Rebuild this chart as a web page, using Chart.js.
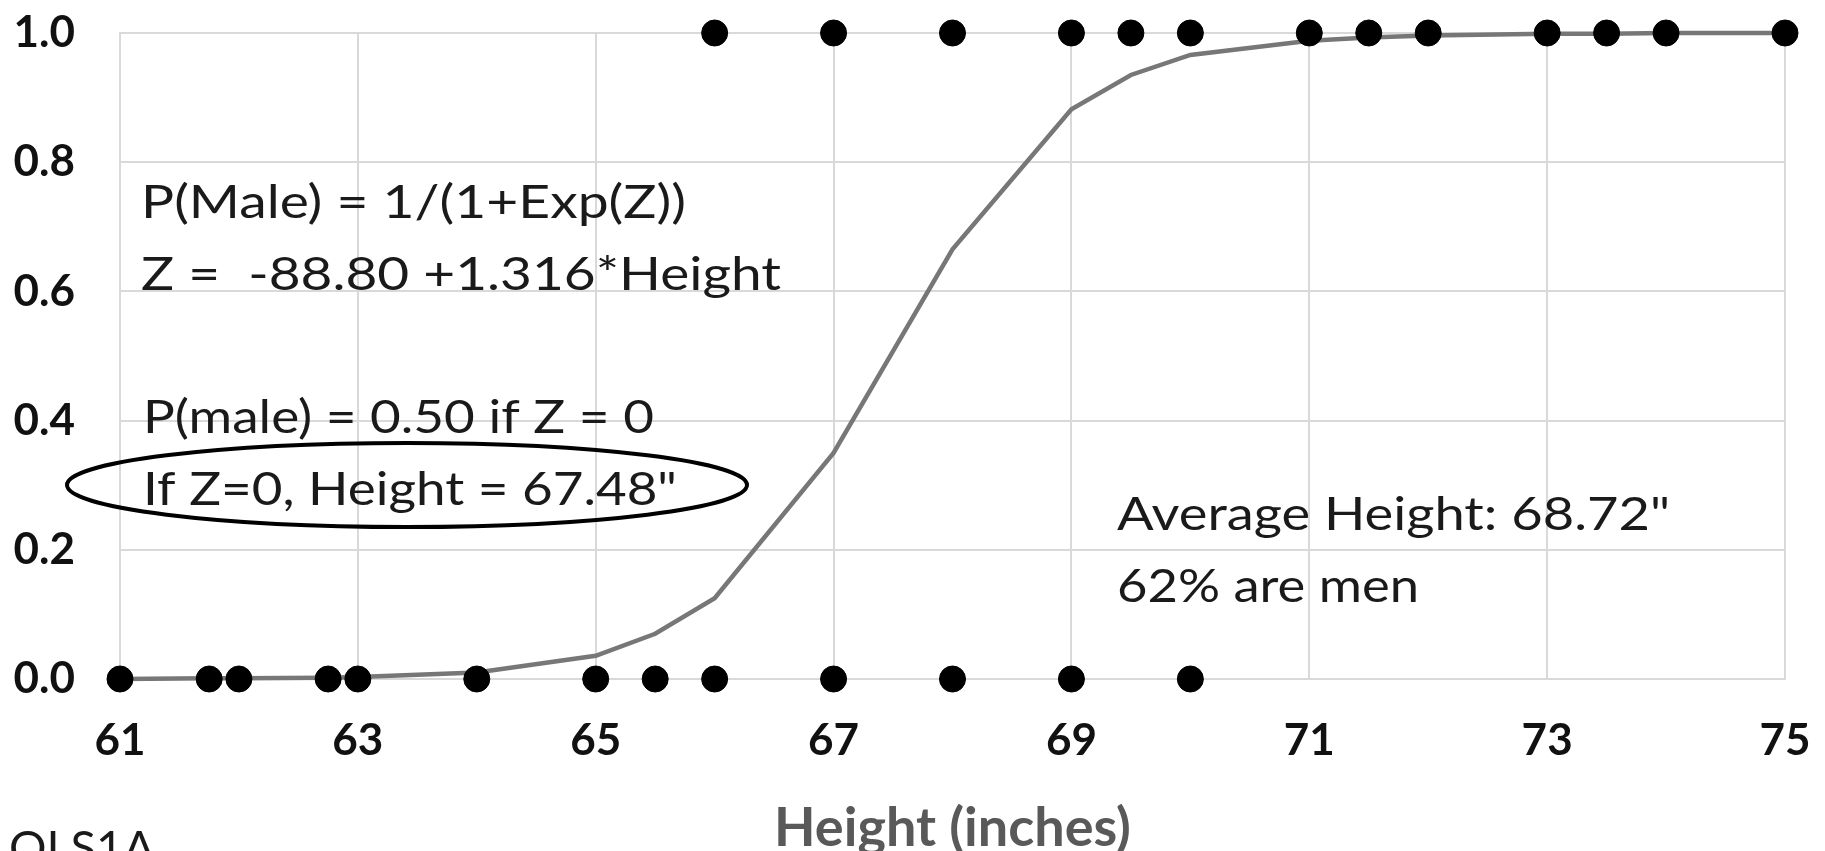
<!DOCTYPE html>
<html>
<head>
<meta charset="utf-8">
<script src="https://cdn.jsdelivr.net/npm/chart.js@4.4.0/dist/chart.umd.min.js"></script>
<style>
  html, body { margin: 0; padding: 0; background: #fff; }
</style>
</head>
<body>
<canvas id="chart" width="1825" height="851"></canvas>
<script>
// observed heights (inches): women plotted at 0, men at 1
const femaleHeights = [61, 61.75, 62, 62.75, 63, 64, 65, 65.5, 66, 67, 68, 69, 70];
const maleHeights = [66, 67, 68, 69, 69.5, 70, 71, 71.5, 72, 73, 73.5, 74, 75];

// fitted P(Male)
const fitHeights = [61, 61.75, 62, 62.75, 63, 64, 65, 65.5, 66, 67, 68, 69, 69.5, 70, 71, 71.5, 72, 73, 73.5, 74, 75];
const fitProb = [0.000, 0.001, 0.001, 0.002, 0.003, 0.010, 0.036, 0.070, 0.125, 0.350, 0.665, 0.882, 0.935, 0.966, 0.988, 0.993, 0.996, 0.999, 0.999, 1.000, 1.000];

const xTitle = 'Height (inches)';

const observed = femaleHeights.map(h => ({ x: h, y: 0 }))
  .concat(maleHeights.map(h => ({ x: h, y: 1 })));
const fitted = fitHeights.map((h, i) => ({ x: h, y: fitProb[i] }));

const tickFont = { family: 'Lato', size: 44, weight: 'bold' };
const gridColor = '#d9d9d9';

// text boxes + the ellipse drawn on top of the plot
const notesPlugin = {
  id: 'notes',
  afterDatasetsDraw(chart) {
    const c = chart.ctx;
    const lines = [
      ['P(Male) = 1/(1+Exp(Z))', 141, 218, 545],
      ['Z =  -88.80 +1.316*Height', 141, 290, 640],
      ['P(male) = 0.50 if Z = 0', 143, 433, 511],
      ['If Z=0, Height = 67.48"', 143, 505, 534],
      ['Average Height: 68.72"', 1117, 530, 553],
      ['62% are men', 1117, 602, 302],
      ['OLS1A', 9, 864, 146]
    ];
    c.save();
    c.fillStyle = '#1a1a1a';
    c.font = '46px Lato';
    c.textBaseline = 'alphabetic';
    c.textAlign = 'left';
    lines.forEach(([t, x, y, w]) => {
      const m = c.measureText(t).width;
      c.save();
      c.translate(x, y);
      c.scale(w / m, 1);
      c.fillText(t, 0, 0);
      c.restore();
    });
    c.beginPath();
    c.ellipse(407, 485, 340, 42, 0, 0, Math.PI * 2);
    c.lineWidth = 4;
    c.strokeStyle = '#000';
    c.stroke();
    c.restore();
  }
};

new Chart(document.getElementById('chart'), {
  type: 'scatter',
  data: {
    datasets: [
      {
        type: 'line',
        label: 'Fitted',
        data: fitted,
        borderColor: '#777777',
        borderWidth: 4.5,
        pointRadius: 0,
        tension: 0,
        fill: false,
        order: 2,
        clip: false
      },
      {
        label: 'Observed',
        data: observed,
        backgroundColor: '#000',
        borderColor: '#000',
        pointRadius: 13,
        pointHoverRadius: 13,
        order: 1,
        clip: false
      }
    ]
  },
  options: {
    responsive: false,
    devicePixelRatio: 1,
    animation: false,
    layout: { padding: { top: 33, right: 40, bottom: 0, left: 0 } },
    plugins: { legend: { display: false }, tooltip: { enabled: false } },
    scales: {
      x: {
        type: 'linear',
        min: 61,
        max: 75,
        ticks: { stepSize: 2, padding: 35, color: '#111', font: tickFont },
        grid: { color: gridColor, lineWidth: 2, drawTicks: false },
        border: { color: gridColor, width: 2 },
        title: {
          display: true,
          text: xTitle,
          color: '#595959',
          font: { family: 'Lato', size: 54, weight: 'bold' },
          padding: { top: 0, bottom: -10 }
        },
        afterFit: s => { s.height = 172; s.paddingLeft = 0; s.paddingRight = 0; }
      },
      y: {
        min: 0,
        max: 1,
        ticks: { stepSize: 0.2, padding: 45, color: '#111', font: tickFont, callback: v => v.toFixed(1) },
        grid: { color: gridColor, lineWidth: 2, drawTicks: false },
        border: { color: gridColor, width: 2 },
        afterFit: s => { s.width = 120; s.paddingTop = 0; s.paddingBottom = 0; }
      }
    }
  },
  plugins: [notesPlugin]
});
</script>
</body>
</html>
